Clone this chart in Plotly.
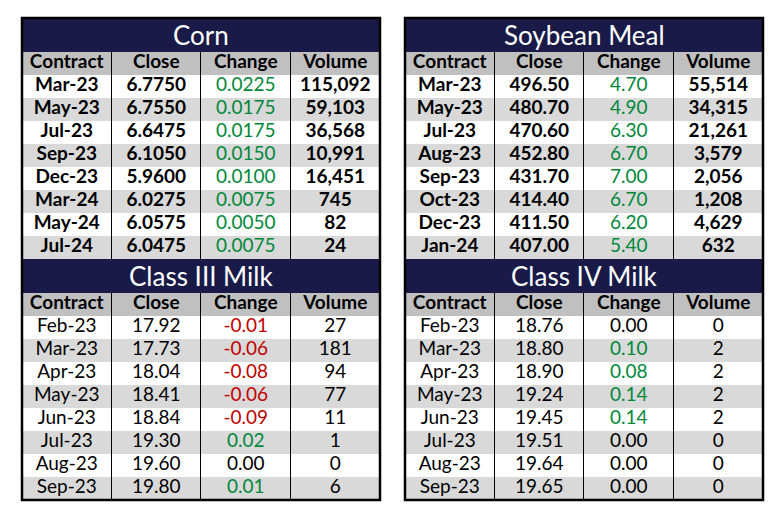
import plotly.graph_objects as go

# the page adds an 8px body margin, so the figure is sized to fit inside it
PAGE_W, PAGE_H = 784, 518
PAD = 8
W, H = PAGE_W - 2 * PAD, PAGE_H - 2 * PAD

columns = ['Contract', 'Close', 'Change', 'Volume']

corn_contract = ['Mar-23', 'May-23', 'Jul-23', 'Sep-23', 'Dec-23', 'Mar-24', 'May-24', 'Jul-24']
corn_close = [6.7750, 6.7550, 6.6475, 6.1050, 5.9600, 6.0275, 6.0575, 6.0475]
corn_change = [0.0225, 0.0175, 0.0175, 0.0150, 0.0100, 0.0075, 0.0050, 0.0075]
corn_volume = [115092, 59103, 36568, 10991, 16451, 745, 82, 24]

soy_contract = ['Mar-23', 'May-23', 'Jul-23', 'Aug-23', 'Sep-23', 'Oct-23', 'Dec-23', 'Jan-24']
soy_close = [496.50, 480.70, 470.60, 452.80, 431.70, 414.40, 411.50, 407.00]
soy_change = [4.70, 4.90, 6.30, 6.70, 7.00, 6.70, 6.20, 5.40]
soy_volume = [55514, 34315, 21261, 3579, 2056, 1208, 4629, 632]

c3_contract = ['Feb-23', 'Mar-23', 'Apr-23', 'May-23', 'Jun-23', 'Jul-23', 'Aug-23', 'Sep-23']
c3_close = [17.92, 17.73, 18.04, 18.41, 18.84, 19.30, 19.60, 19.80]
c3_change = [-0.01, -0.06, -0.08, -0.06, -0.09, 0.02, 0.00, 0.01]
c3_volume = [27, 181, 94, 77, 11, 1, 0, 6]

c4_contract = ['Feb-23', 'Mar-23', 'Apr-23', 'May-23', 'Jun-23', 'Jul-23', 'Aug-23', 'Sep-23']
c4_close = [18.76, 18.80, 18.90, 19.24, 19.45, 19.51, 19.64, 19.65]
c4_change = [0.00, 0.10, 0.08, 0.14, 0.14, 0.00, 0.00, 0.00]
c4_volume = [0, 2, 2, 2, 2, 0, 0, 0]

# layout in page pixels
TOP = 18
TITLE_H = 34
ROW_H = 23
LEFT_X = [22, 405]
TABLE_W = 358

NAVY = '#1a1a48'
HEAD_GRAY = '#c0c0c0'
ROW_GRAY = '#d9d9d9'
GREEN = '#00883a'
RED = '#c00000'
FONT = 'Lato'

tables = [
  ('Corn', corn_contract, corn_close, corn_change, corn_volume, 4, 0, 0, 'bold'),
  ('Soybean Meal', soy_contract, soy_close, soy_change, soy_volume, 2, 1, 0, 'bold'),
  ('Class III Milk', c3_contract, c3_close, c3_change, c3_volume, 2, 0, 1, 'normal'),
  ('Class IV Milk', c4_contract, c4_close, c4_change, c4_volume, 2, 1, 1, 'normal'),
]

def px_x(x):
  return (x - PAD) / W

def px_y(y):
  return 1 - (y - PAD) / H

fig = go.Figure()
shapes = []
annotations = []
axes = {}

for t, (title, contract, close, change, volume, dec, col, blk, weight) in enumerate(tables):
  n = len(contract)
  ax = '' if t == 0 else str(t + 1)
  x0 = LEFT_X[col]
  x1 = x0 + TABLE_W
  block_h = TITLE_H + (n + 1) * ROW_H
  y_top = TOP + blk * block_h
  y_head = y_top + TITLE_H
  y_bot = y_head + (n + 1) * ROW_H

  # row shading: header row, then alternating white / gray
  z = [[2] * 4] + [[i % 2] * 4 for i in range(n)]
  fig.add_trace(go.Heatmap(
    z=z, x=list(range(4)), y=list(range(n + 1)),
    zmin=0, zmax=2, showscale=False, xgap=1, hoverinfo='skip',
    colorscale=[[0, 'white'], [0.5, ROW_GRAY], [1, HEAD_GRAY]],
    xaxis='x' + ax, yaxis='y' + ax,
  ))

  # header text
  fig.add_trace(go.Scatter(
    x=list(range(4)), y=[0] * 4, text=columns, mode='text',
    textposition='middle center', hoverinfo='skip',
    textfont=dict(family=FONT, size=19, color='black', weight='bold'),
    xaxis='x' + ax, yaxis='y' + ax,
  ))

  # cell text, one trace per column
  cols = [
    contract,
    [f'{v:.{dec}f}' for v in close],
    [f'{v:.{dec}f}' for v in change],
    [f'{v:,}' for v in volume],
  ]
  change_color = [GREEN if v > 0 else RED if v < 0 else 'black' for v in change]
  colors = ['black', 'black', change_color, 'black']
  weights = [weight, weight, 'normal', weight]
  for c in range(4):
    fig.add_trace(go.Scatter(
      x=[c] * n, y=list(range(1, n + 1)), text=cols[c], mode='text',
      textposition='middle center', hoverinfo='skip',
      textfont=dict(family=FONT, size=19, color=colors[c], weight=weights[c]),
      xaxis='x' + ax, yaxis='y' + ax,
    ))

  axes['xaxis' + ax] = dict(domain=[px_x(x0), px_x(x1)], range=[-0.5, 3.5],
                            visible=False, fixedrange=True, anchor='y' + ax)
  axes['yaxis' + ax] = dict(domain=[px_y(y_bot), px_y(y_head)], range=[n + 0.5, -0.5],
                            visible=False, fixedrange=True, anchor='x' + ax)

  # title band
  shapes.append(dict(type='rect', xref='paper', yref='paper',
                     x0=px_x(x0), x1=px_x(x1), y0=px_y(y_head), y1=px_y(y_top),
                     fillcolor=NAVY, line_width=0))
  annotations.append(dict(text=title, xref='paper', yref='paper',
                          x=px_x((x0 + x1) / 2), y=px_y((y_top + y_head) / 2),
                          xanchor='center', yanchor='middle', showarrow=False,
                          font=dict(family=FONT, size=26, color='white')))

# outer borders around each column of tables
bottom = TOP + 2 * (TITLE_H + 9 * ROW_H)
for x0 in LEFT_X:
  shapes.append(dict(type='rect', xref='paper', yref='paper',
                     x0=px_x(x0), x1=px_x(x0 + TABLE_W),
                     y0=px_y(bottom), y1=px_y(TOP),
                     line=dict(color='black', width=2.5)))

fig.update_layout(
  width=W,
  height=H,
  margin=dict(l=0, r=0, t=0, b=0),
  paper_bgcolor='white',
  plot_bgcolor='black',
  showlegend=False,
  shapes=shapes,
  annotations=annotations,
  **axes,
)

fig.write_html('out.html')
